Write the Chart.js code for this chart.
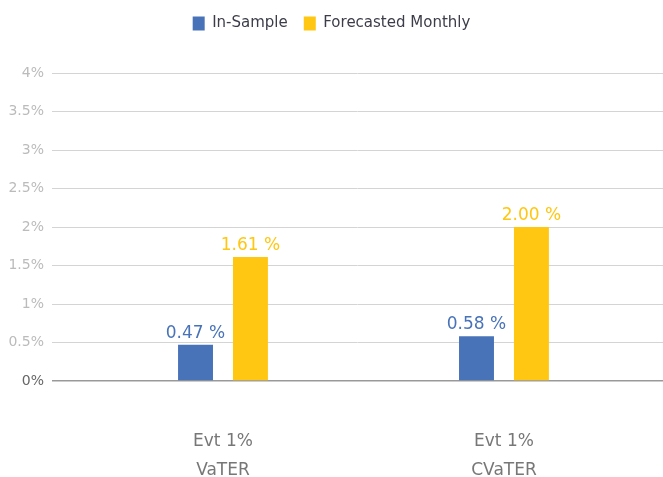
<!DOCTYPE html>
<html>
<head>
<meta charset="utf-8">
<script src="https://cdn.jsdelivr.net/npm/chart.js@4"></script>
<style>
  html, body { margin: 0; padding: 0; background: #fff; }
  #wrap { width: 663px; height: 477px; }
</style>
</head>
<body>
<div id="wrap"><canvas id="chart"></canvas></div>
<script>
const categories = [['Evt 1%', 'VaTER'], ['Evt 1%', 'CVaTER']]
const seriesNames = ['In-Sample', 'Forecasted Monthly']
const inSample = [0.47, 0.58]
const forecasted = [1.61, 2.00]
const yTicks = [0, 0.5, 1, 1.5, 2, 2.5, 3, 3.5, 4]

const BLUE = '#4873b9'
const YELLOW = '#ffc612'
const FONT = "'DejaVu Sans', Verdana, sans-serif"

// extra room under the legend
const legendGap = {
  id: 'legendGap',
  beforeInit(chart) {
    const fit = chart.legend.fit
    chart.legend.fit = function () {
      fit.bind(chart.legend)()
      this.height += 32
    }
  }
}

const valueLabels = {
  id: 'valueLabels',
  afterDatasetsDraw(chart) {
    const ctx = chart.ctx
    ctx.save()
    ctx.font = '17px ' + FONT
    ctx.textAlign = 'center'
    ctx.textBaseline = 'bottom'
    chart.data.datasets.forEach((ds, i) => {
      chart.getDatasetMeta(i).data.forEach((bar, j) => {
        ctx.fillStyle = ds.backgroundColor
        ctx.fillText(ds.data[j].y.toFixed(2) + ' %', bar.x, bar.y - 3)
      })
    })
    ctx.restore()
  }
}

new Chart(document.getElementById('chart'), {
  type: 'bar',
  data: {
    datasets: [
      { label: seriesNames[0], data: inSample.map((v, i) => ({ x: i, y: v })), backgroundColor: BLUE },
      { label: seriesNames[1], data: forecasted.map((v, i) => ({ x: i, y: v })), backgroundColor: YELLOW }
    ]
  },
  options: {
    responsive: true,
    maintainAspectRatio: false,
    animation: false,
    devicePixelRatio: 1,
    categoryPercentage: 0.391,
    barPercentage: 0.636,
    layout: { padding: 0 },
    plugins: {
      tooltip: { enabled: false },
      legend: {
        position: 'top',
        labels: {
          boxWidth: 12,
          boxHeight: 14,
          padding: 16,
          color: '#3d3d4a',
          font: { family: FONT, size: 15 }
        }
      }
    },
    scales: {
      x: {
        type: 'linear',
        offset: false,
        min: -0.6085,
        max: 1.566,
        grid: { display: false, offset: false },
        border: { display: false },
        afterBuildTicks: s => { s.ticks = categories.map((c, i) => ({ value: i })) },
        afterFit: s => { s.height = 96 },
        ticks: {
          padding: 38,
          color: '#777',
          font: { family: FONT, size: 17, lineHeight: 1.7 },
          callback: v => categories[v]
        }
      },
      y: {
        min: 0,
        max: 4,
        afterBuildTicks: s => { s.ticks = yTicks.map(v => ({ value: v })) },
        afterFit: s => { s.width = 52 },
        border: { display: false },
        grid: {
          drawTicks: false,
          color: c => c.tick.value === 0 ? '#999' : '#d4d4d4',
          lineWidth: c => c.tick.value === 0 ? 1.5 : 1
        },
        ticks: {
          padding: 8,
          color: c => c.tick.value === 0 ? '#666' : '#bbb',
          font: { family: FONT, size: 14 },
          callback: v => v + '%'
        }
      }
    }
  },
  plugins: [legendGap, valueLabels]
})
</script>
</body>
</html>
